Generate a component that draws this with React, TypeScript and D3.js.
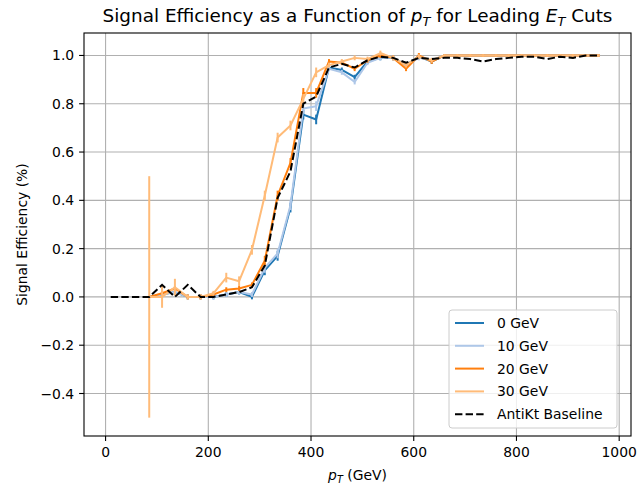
import React from "react";
import * as d3 from "d3";

// ---------- data ----------
const BASE_PT = [10, 35, 60, 85, 110, 135, 160, 185, 210, 235, 260, 285, 310, 335, 360, 385, 410, 435, 460, 485, 510, 535, 560, 585, 610, 635, 660, 685, 710, 735, 760, 785, 810, 835, 860, 885, 910, 935, 960];
const BASELINE = [0, 0, 0, 0, 0.05, 0.0, 0.05, 0.0, 0.0, 0.01, 0.02, 0.04, 0.13, 0.41, 0.52, 0.8, 0.83, 0.95, 0.965, 0.95, 0.98, 0.995, 0.99, 0.97, 0.99, 0.985, 0.99, 0.99, 0.985, 0.975, 0.985, 0.99, 0.995, 0.995, 0.985, 0.995, 0.99, 1.0, 1.0];

const CUT_PT = [85, 110, 135, 160, 185, 210, 235, 260, 285, 310, 335, 360, 385, 410, 435, 460, 485, 510, 535, 560, 585, 610, 635, 660, 685, 710, 735, 760, 785, 810, 835, 860, 885, 910, 935, 960];
const EFF_0 = [0, 0.01, 0.02, 0.0, 0.0, 0.0, 0.01, 0.02, 0.0, 0.11, 0.17, 0.37, 0.755, 0.735, 0.95, 0.94, 0.91, 0.975, 0.99, 0.99, 0.96, 0.995, 0.975, 1.0, 1.0, 1.0, 1.0, 1.0, 1.0, 1.0, 1.0, 1.0, 1.0, 1.0, 1.0, 1.0];
const EFF_10 = [0, 0.01, 0.02, 0.0, 0.0, 0.0, 0.01, 0.02, 0.01, 0.12, 0.18, 0.38, 0.78, 0.79, 0.945, 0.93, 0.89, 0.97, 0.99, 0.99, 0.96, 0.99, 0.98, 1.0, 1.0, 1.0, 1.0, 1.0, 1.0, 1.0, 1.0, 1.0, 1.0, 1.0, 1.0, 1.0];
const EFF_20 = [0, 0.015, 0.035, 0.0, 0.0, 0.01, 0.03, 0.035, 0.05, 0.15, 0.42, 0.555, 0.845, 0.845, 0.975, 0.97, 0.945, 0.98, 1.0, 0.99, 0.945, 1.0, 0.975, 1.0, 1.0, 1.0, 1.0, 1.0, 1.0, 1.0, 1.0, 1.0, 1.0, 1.0, 1.0, 1.0];
const EFF_30 = [0, 0.0, 0.04, 0.0, 0.0, 0.015, 0.08, 0.065, 0.195, 0.42, 0.66, 0.71, 0.82, 0.93, 0.96, 0.975, 0.99, 0.985, 1.01, 0.99, 0.96, 0.995, 0.98, 1.0, 1.0, 1.0, 1.0, 1.0, 1.0, 1.0, 1.0, 1.0, 1.0, 1.0, 1.0, 1.0];
const ERR_0 = [0, 0.01, 0.01, 0.01, 0.01, 0.01, 0.01, 0.01, 0.01, 0.02, 0.02, 0.02, 0.02, 0.02, 0.01, 0.01, 0.01, 0.01, 0.01, 0.01, 0.01, 0.01, 0.01, 0.005, 0.005, 0.005, 0.005, 0.005, 0.005, 0.005, 0.005, 0.005, 0.005, 0.005, 0.005, 0.005];
const ERR_30 = [0.5, 0.045, 0.035, 0.01, 0.01, 0.01, 0.02, 0.02, 0.02, 0.02, 0.02, 0.02, 0.02, 0.02, 0.01, 0.01, 0.01, 0.01, 0.01, 0.01, 0.01, 0.01, 0.01, 0.005, 0.005, 0.005, 0.005, 0.005, 0.005, 0.005, 0.005, 0.005, 0.005, 0.005, 0.005, 0.005];

const SERIES_NAMES = ["0 GeV", "10 GeV", "20 GeV", "30 GeV"];
const SERIES_VALUES = [EFF_0, EFF_10, EFF_20, EFF_30];
const SERIES_ERRS = [ERR_0, ERR_0, ERR_0, ERR_30];
const SERIES_COLORS = ["#1f77b4", "#aec7e8", "#ff7f0e", "#ffbb78"];
const BASELINE_NAME = "AntiKt Baseline";

const X_TICKS = [0, 200, 400, 600, 800, 1000];
const Y_TICKS = [-0.4, -0.2, 0.0, 0.2, 0.4, 0.6, 0.8, 1.0];

const W = 640;
const H = 485;
const M = { left: 84, right: 631, top: 33, bottom: 436 };
const FONT = "DejaVu Sans, sans-serif";

export default function App() {
  const x = d3.scaleLinear().domain([-42, 1023]).range([M.left, M.right]);
  const y = d3.scaleLinear().domain([-0.576, 1.093]).range([M.bottom, M.top]);

  const line = d3
    .line<[number, number]>()
    .x((d) => x(d[0]))
    .y((d) => y(d[1]));

  const legendItems = [
    ...SERIES_NAMES.map((n, i) => ({ name: n, color: SERIES_COLORS[i], dash: undefined as string | undefined })),
    { name: BASELINE_NAME, color: "#000000", dash: "7.4,3.2" },
  ];
  const lgX = 449, lgY = 310, lgW = 168, lgH = 118;

  return (
    <svg
      width={W}
      height={H}
      style={{ position: "absolute", left: 0, top: 0, background: "#fff" }}
      fontFamily={FONT}
    >
      <rect x={0} y={0} width={W} height={H} fill="#fff" />
      {/* grid */}
      <g stroke="#b0b0b0" strokeWidth={1.1}>
        {X_TICKS.map((t) => (
          <line key={"gx" + t} x1={x(t)} x2={x(t)} y1={M.top} y2={M.bottom} />
        ))}
        {Y_TICKS.map((t) => (
          <line key={"gy" + t} x1={M.left} x2={M.right} y1={y(t)} y2={y(t)} />
        ))}
      </g>

      <defs>
        <clipPath id="plotclip">
          <rect x={M.left} y={M.top} width={M.right - M.left} height={M.bottom - M.top} />
        </clipPath>
      </defs>

      <g clipPath="url(#plotclip)">
        {SERIES_VALUES.map((vals, si) => {
          const pts = CUT_PT.map((p, i) => [p, vals[i]] as [number, number]);
          return (
            <g key={"s" + si}>
              {CUT_PT.map((p, i) => (
                <line
                  key={"e" + i}
                  x1={x(p)}
                  x2={x(p)}
                  y1={y(vals[i] - SERIES_ERRS[si][i])}
                  y2={y(vals[i] + SERIES_ERRS[si][i])}
                  stroke={SERIES_COLORS[si]}
                  strokeWidth={2}
                />
              ))}
              <path
                d={line(pts) || ""}
                fill="none"
                stroke={SERIES_COLORS[si]}
                strokeWidth={2}
                strokeLinejoin="round"
              />
            </g>
          );
        })}
        <path
          d={line(BASE_PT.map((p, i) => [p, BASELINE[i]] as [number, number])) || ""}
          fill="none"
          stroke="#000"
          strokeWidth={2}
          strokeDasharray="7.4,3.2"
        />
      </g>

      {/* frame */}
      <rect
        x={M.left}
        y={M.top}
        width={M.right - M.left}
        height={M.bottom - M.top}
        fill="none"
        stroke="#000"
        strokeWidth={1.1}
      />

      {/* ticks */}
      <g fontSize={13.9} fill="#000">
        {X_TICKS.map((t) => (
          <g key={"xt" + t}>
            <line x1={x(t)} x2={x(t)} y1={M.bottom} y2={M.bottom + 4.9} stroke="#000" strokeWidth={1.1} />
            <text x={x(t)} y={M.bottom + 20.5} textAnchor="middle">
              {String(t)}
            </text>
          </g>
        ))}
        {Y_TICKS.map((t) => (
          <g key={"yt" + t}>
            <line x1={M.left - 4.9} x2={M.left} y1={y(t)} y2={y(t)} stroke="#000" strokeWidth={1.1} />
            <text x={M.left - 9.8} y={y(t) + 5} textAnchor="end">
              {t < 0 ? "\u2212" + Math.abs(t).toFixed(1) : t.toFixed(1)}
            </text>
          </g>
        ))}
      </g>

      {/* axis labels */}
      <text x={(M.left + M.right) / 2} y={480} textAnchor="middle" fontSize={13.9}>
        <tspan fontStyle="italic">p</tspan>
        <tspan fontStyle="italic" fontSize={9.7} dy={3}>T</tspan>
        <tspan dy={-3}> (GeV)</tspan>
      </text>
      <text
        transform={`translate(27,${(M.top + M.bottom) / 2}) rotate(-90)`}
        textAnchor="middle"
        fontSize={13.9}
      >
        Signal Efficiency (%)
      </text>

      {/* title */}
      <text x={(M.left + M.right) / 2} y={22} textAnchor="middle" fontSize={18.4}>
        <tspan>Signal Efficiency as a Function of </tspan>
        <tspan fontStyle="italic">p</tspan>
        <tspan fontStyle="italic" fontSize={12.9} dy={3.8}>T</tspan>
        <tspan dy={-3.8}> for Leading </tspan>
        <tspan fontStyle="italic">E</tspan>
        <tspan fontStyle="italic" fontSize={12.9} dy={3.8}>T</tspan>
        <tspan dy={-3.8}> Cuts</tspan>
      </text>

      {/* legend */}
      <g>
        <rect x={lgX} y={lgY} width={lgW} height={lgH} rx={3} ry={3} fill="#fff" fillOpacity={0.8} stroke="#cccccc" strokeWidth={1} />
        {legendItems.map((it, i) => {
          const cy = lgY + 13 + i * 22.8;
          return (
            <g key={"lg" + i}>
              <line x1={455} x2={484} y1={cy} y2={cy} stroke={it.color} strokeWidth={2} strokeDasharray={it.dash} />
              <text x={497} y={cy + 5} fontSize={13.9}>
                {it.name}
              </text>
            </g>
          );
        })}
      </g>
    </svg>
  );
}
